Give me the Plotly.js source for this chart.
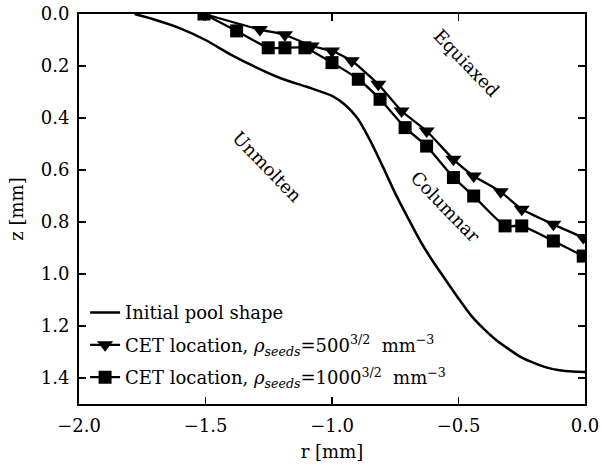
<!DOCTYPE html>
<html><head><meta charset="utf-8">
<script src="https://cdn.plot.ly/plotly-3.0.1.min.js"></script>
<style>html,body{margin:0;padding:0;background:#fff}#c{width:603px;height:466px}</style>
</head><body><div id="c"></div>
<script>
const poolR = [-1.78,-1.7,-1.6,-1.5,-1.4,-1.3,-1.2,-1.1,-1.0,-0.95,-0.9,-0.85,-0.8,-0.75,-0.7,-0.65,-0.6,-0.55,-0.5,-0.45,-0.4,-0.35,-0.3,-0.25,-0.2,-0.15,-0.1,-0.05,0.0];
const poolZ = [0.0,0.022,0.055,0.10,0.156,0.205,0.248,0.28,0.315,0.348,0.40,0.485,0.585,0.69,0.784,0.875,0.953,1.024,1.094,1.16,1.211,1.255,1.29,1.322,1.343,1.36,1.37,1.375,1.377];
const cet500R = [-1.506,-1.285,-1.186,-1.08,-1.0,-0.922,-0.817,-0.725,-0.626,-0.52,-0.44,-0.333,-0.25,-0.125,-0.007];
const cet500Z = [0.0,0.06,0.08,0.123,0.142,0.18,0.27,0.373,0.45,0.559,0.623,0.684,0.751,0.809,0.86];
const cet1000R = [-1.506,-1.377,-1.252,-1.186,-1.107,-1.0,-0.896,-0.81,-0.711,-0.626,-0.52,-0.44,-0.316,-0.25,-0.125,-0.007];
const cet1000Z = [0.0,0.065,0.13,0.13,0.13,0.187,0.251,0.328,0.437,0.508,0.629,0.70,0.815,0.815,0.873,0.931];
const labels = [
  {text:'Unmolten', r:-1.257, z:0.588},
  {text:'Equiaxed', r:-0.470, z:0.188},
  {text:'Columnar', r:-0.553, z:0.742}
];
const xTicks = [-2.0,-1.5,-1.0,-0.5,0.0];
const yTicks = [0.0,0.2,0.4,0.6,0.8,1.0,1.2,1.4];

const F = '"DejaVu Serif", serif';
const FS = 18;
const traces = [
  {x:poolR, y:poolZ, mode:'lines', name:'Initial pool shape', legendgroup:'a',
   line:{color:'#000', width:2.5, shape:'spline', smoothing:0.6}},
  {x:cet500R, y:cet500Z, mode:'lines+markers', legendgroup:'b',
   name:'CET location, <i>ρ<sub>seeds</sub></i>=500<sup>3/2</sup>  mm<sup>−3</sup>',
   line:{color:'#000', width:2.3, shape:'spline', smoothing:0.5},
   marker:{symbol:'triangle-down', size:14, color:'#000'}},
  {x:cet1000R, y:cet1000Z, mode:'lines+markers', legendgroup:'c',
   name:'CET location, <i>ρ<sub>seeds</sub></i>=1000<sup>3/2</sup>  mm<sup>−3</sup>',
   line:{color:'#000', width:2.3, shape:'spline', smoothing:0.5},
   marker:{symbol:'square', size:13, color:'#000'}}
];
const ax = {showgrid:false, zeroline:false, showline:true, linecolor:'#000', linewidth:2,
  mirror:'ticks', ticks:'inside', ticklen:7, tickwidth:1.2, tickcolor:'#000',
  tickfont:{family:F, size:FS, color:'#000'}};
const layout = {
  width:603, height:466,
  margin:{l:79, r:18, t:14, b:62},
  paper_bgcolor:'#fff', plot_bgcolor:'#fff',
  font:{family:F, color:'#000'},
  showlegend:true,
  legend:{x:0.012, y:0.02, xanchor:'left', yanchor:'bottom', bgcolor:'rgba(0,0,0,0)',
    font:{family:F, size:FS, color:'#000'}, tracegroupgap:6, itemwidth:30},
  xaxis:Object.assign({}, ax, {range:[-2,0], tickvals:xTicks, ticktext:xTicks.map(v=>v.toFixed(1).replace('-','−')),
    ticklabelstandoff:4,
    title:{text:'r [mm]', font:{family:F, size:FS, color:'#000'}, standoff:11}}),
  yaxis:Object.assign({}, ax, {range:[1.5,0], tickvals:yTicks, ticktext:yTicks.map(v=>v.toFixed(1)),
    ticklabelstandoff:4,
    title:{text:'z [mm]', font:{family:F, size:FS, color:'#000'}, standoff:12}}),
  annotations: labels.map(l=>({x:l.r, y:l.z, xref:'x', yref:'y', text:l.text, showarrow:false,
    textangle:46, font:{family:F, size:FS, color:'#000'}}))
};
Plotly.newPlot('c', traces, layout, {staticPlot:true, displayModeBar:false});
</script></body></html>
